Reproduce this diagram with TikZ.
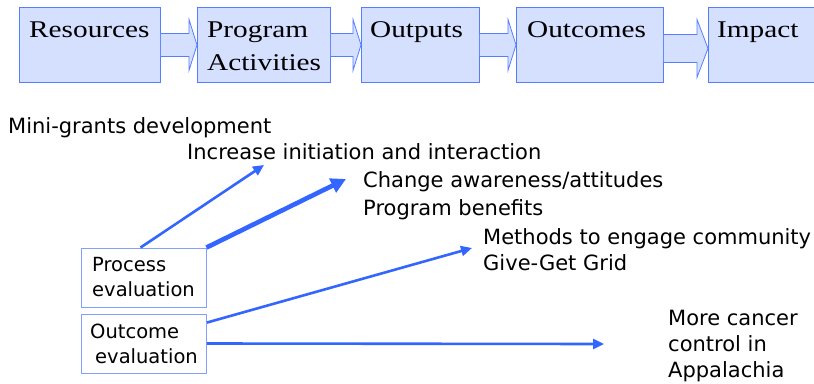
\documentclass[tikz,border=0pt]{standalone}
\usepackage{fontspec}
\newfontfamily\stagefont[FakeStretch=1.22]{Liberation Serif}
\newfontfamily\notefont{DejaVu Sans}
\usetikzlibrary{calc,arrows.meta}
\definecolor{stagefill}{RGB}{213,224,255}
\definecolor{stageline}{RGB}{85,125,255}
\definecolor{evalline}{RGB}{130,160,255}
\definecolor{arrowblue}{RGB}{51,102,255}
\newcommand{\shaft}{11.5}
\newcommand{\head}{25.5}
\newcommand{\headlen}{8}

\begin{document}
\begin{tikzpicture}[x=1pt,y=-1pt,
  stage/.style={draw=stageline,fill=stagefill,line width=0.9pt,anchor=north west,minimum height=75,inner sep=0},
  stagetext/.style={font=\stagefont\fontsize{24}{33}\selectfont,anchor=base west,inner sep=0,align=left},
  stagearrow/.style={draw=stageline,fill=stagefill,line width=0.8pt,line join=miter},
  evalbox/.style={draw=evalline,line width=0.9pt,minimum width=125,minimum height=59,inner sep=0,align=left,font=\notefont\fontsize{19.5}{25}\selectfont},
  note/.style={font=\notefont\fontsize{21}{27}\selectfont,anchor=base west,inner sep=0,align=left},
  evalarrow/.style={draw=arrowblue,line width=2.6pt,-{Triangle[length=11pt,width=10pt]}}]
\useasboundingbox (0,0) rectangle (814,383);
% stages
\node[stage,minimum width=141] (res) at (19,7) {};
\node[stage,minimum width=133] (prog) at (197,7) {};
\node[stage,minimum width=118] (outp) at (361,7) {};
\node[stage,minimum width=147] (outc) at (516,7) {};
\node[stage,minimum width=112] (imp) at (708,7) {};
% block arrows between stages
\filldraw[stagearrow] ($(res.east)+(0,-\shaft)$) -- ($(prog.west)+(-\headlen,-\shaft)$) -- ($(prog.west)+(-\headlen,-\head)$) -- (prog.west) -- ($(prog.west)+(-\headlen,\head)$) -- ($(prog.west)+(-\headlen,\shaft)$) -- ($(res.east)+(0,\shaft)$);
\filldraw[stagearrow] ($(prog.east)+(0,-\shaft)$) -- ($(outp.west)+(-\headlen,-\shaft)$) -- ($(outp.west)+(-\headlen,-\head)$) -- (outp.west) -- ($(outp.west)+(-\headlen,\head)$) -- ($(outp.west)+(-\headlen,\shaft)$) -- ($(prog.east)+(0,\shaft)$);
\filldraw[stagearrow] ($(outp.east)+(0,-\shaft)$) -- ($(outc.west)+(-\headlen,-\shaft)$) -- ($(outc.west)+(-\headlen,-\head)$) -- (outc.west) -- ($(outc.west)+(-\headlen,\head)$) -- ($(outc.west)+(-\headlen,\shaft)$) -- ($(outp.east)+(0,\shaft)$);
\filldraw[stagearrow] ($(outc.east)+(0,-10.5)$) -- ($(imp.west)+(-11,-10.5)$) -- ($(imp.west)+(-11,-25.5)$) -- ($(imp.west)+(0,3.5)$) -- ($(imp.west)+(-11,32.5)$) -- ($(imp.west)+(-11,17.5)$) -- ($(outc.east)+(0,17.5)$);
\node[stagetext] (restxt) at (29,37) {Resources};
\node[stagetext] (progtxt) at (207,70) {Program\\Activities};
\node[stagetext] (outptxt) at (370,37) {Outputs};
\node[stagetext] (outctxt) at (527,37) {Outcomes};
\node[stagetext] (imptxt) at (717,37) {Impact};
% notes
\node[note] (mini) at (8,133) {Mini-grants development};
\node[note] (incr) at (187,159) {Increase initiation and interaction};
\node[note,font=\notefont\fontsize{21}{28}\selectfont] (chg) at (363,215) {Change awareness/attitudes\\Program benefits};
\node[note,font=\notefont\fontsize{21}{26}\selectfont] (meth) at (483,270) {Methods to engage community\\Give-Get Grid};
\node[note,font=\notefont\fontsize{21}{26}\selectfont] (more) at (668,377) {More cancer\\control in\\Appalachia};
% evaluation boxes
\node[evalbox] (proc) at (143.5,277.5) {Process\\evaluation};
\node[evalbox] (outev) at (144,343.5) {Outcome\\\hspace*{5pt}evaluation};
\coordinate (incrtip) at (264,165);
\coordinate (chgtip) at (346,179);
\coordinate (methtip) at (472,248);
\coordinate (moretip) at (604,344);
\draw[evalarrow] ($(proc.north)+(-3,0)$) -- (incrtip);
\draw[evalarrow,line width=4.6pt,-{Triangle[length=15pt,width=15pt]}] (proc.north east) -- (chgtip);
\draw[evalarrow] ($(outev.north east)+(0,9)$) -- (methtip);
\draw[evalarrow] (outev.east) -- (moretip);
\end{tikzpicture}
\end{document}
